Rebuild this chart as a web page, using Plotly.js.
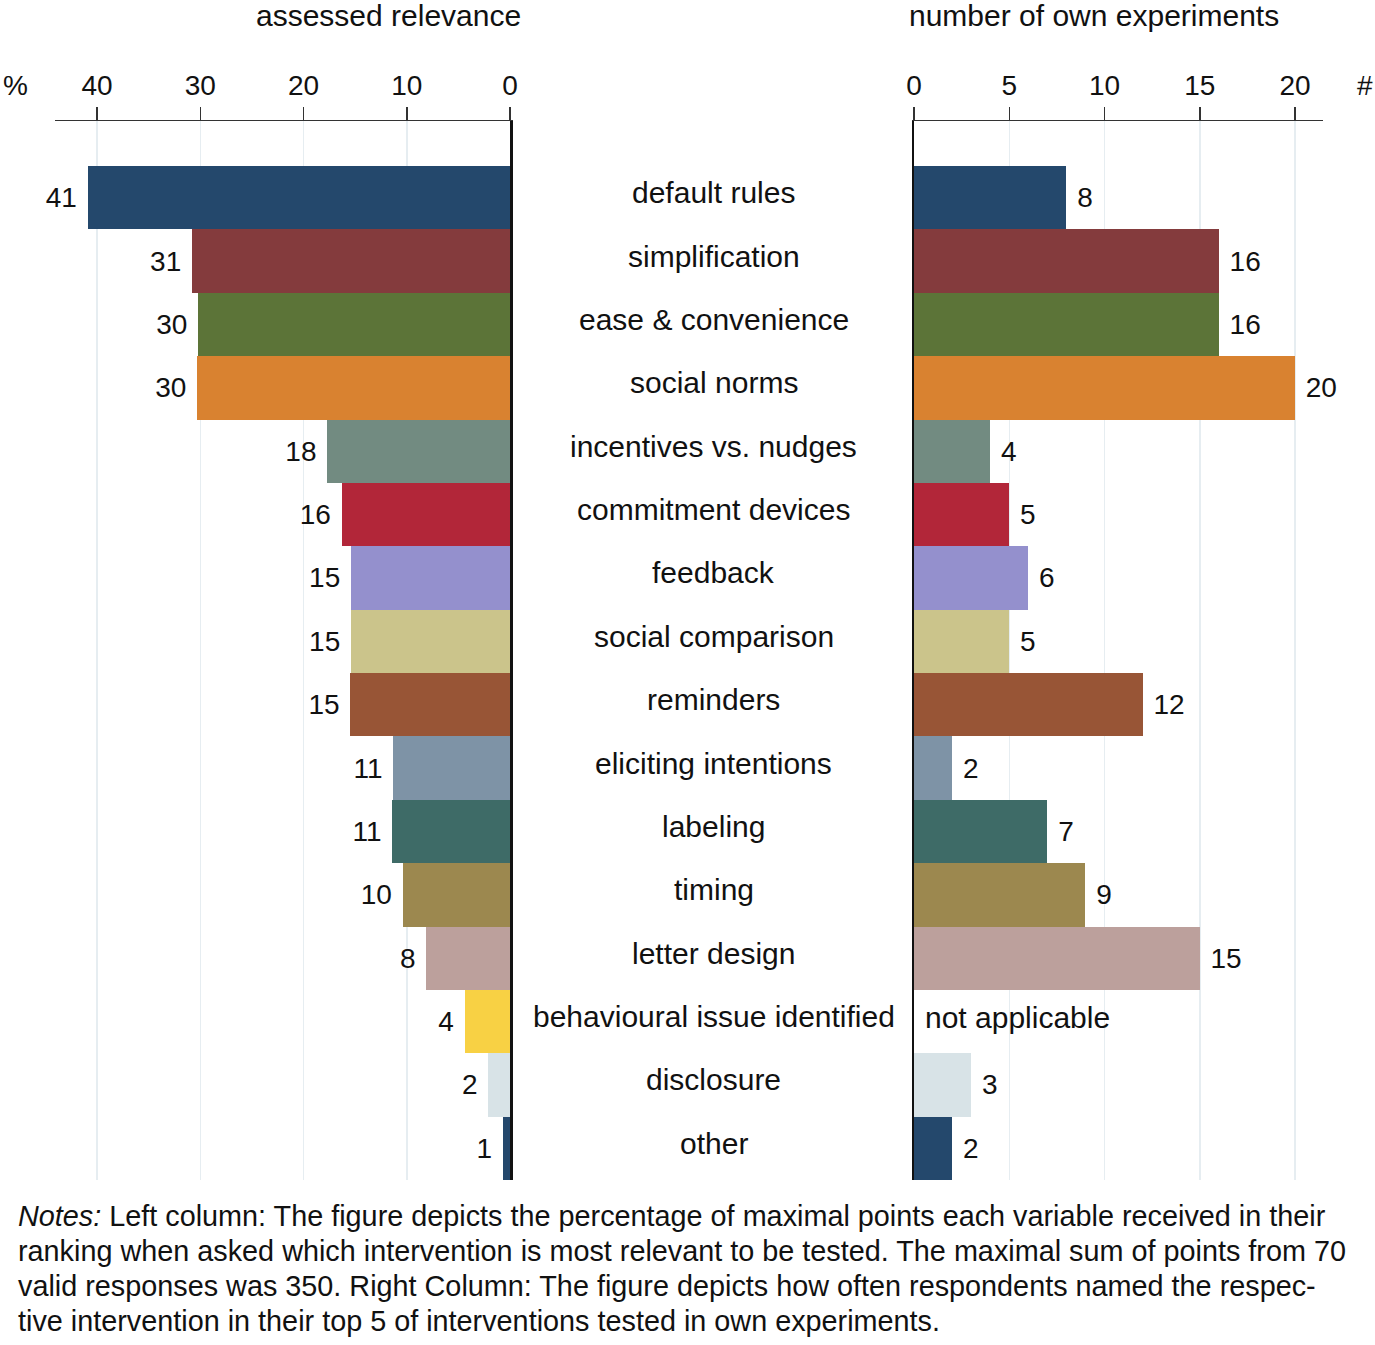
<!DOCTYPE html>
<html>
<head>
<meta charset="utf-8">
<script src="https://cdn.plot.ly/plotly-3.0.1.min.js"></script>
<style>
html,body{margin:0;padding:0;background:#fff;}
#chart{width:1375px;height:1345px;}
</style>
</head>
<body>
<div id="chart"></div>
<script>
const categories = ["default rules","simplification","ease & convenience","social norms","incentives vs. nudges","commitment devices","feedback","social comparison","reminders","eliciting intentions","labeling","timing","letter design","behavioural issue identified","disclosure","other"];
const relevancePct = [40.9,30.8,30.2,30.3,17.7,16.3,15.4,15.4,15.45,11.3,11.4,10.4,8.1,4.4,2.1,0.7];
const ownExperiments = [8,16,16,20,4,5,6,5,12,2,7,9,15,null,3,2];
const barColors = ["#24486c","#843b3d","#5c7438","#d98230","#728b81","#b22639","#9490cd","#cbc48b","#985536","#7e93a6","#3e6b67","#9c884f","#bca09c","#f8d144","#d8e3e7","#24486c"];
const leftTicks = [0,10,20,30,40];
const rightTicks = [0,5,10,15,20];
const leftTitle = "assessed relevance";
const rightTitle = "number of own experiments";
const notApplicableText = "not applicable";
const notesLines = [
  "<i>Notes:</i> Left column: The figure depicts the percentage of maximal points each variable received in their",
  "ranking when asked which intervention is most relevant to be tested. The maximal sum of points from 70",
  "valid responses was 350. Right Column: The figure depicts how often respondents named the respec-",
  "tive intervention in their top 5 of interventions tested in own experiments."
];

const FONT = "Liberation Sans, Arial, sans-serif";
const W = 1375;
const NB = "\u00a0";

const traces = [
  {
    type: "bar", orientation: "h",
    y: categories, x: relevancePct,
    xaxis: "x", yaxis: "y",
    marker: {color: barColors, line: {width: 0}},
    text: relevancePct.map(v => Math.round(v).toString() + NB),
    texttemplate: "%{text}",
    textposition: "outside",
    textfont: {family: FONT, size: 28, color: "#111"},
    cliponaxis: false,
    hoverinfo: "x+y"
  },
  {
    type: "bar", orientation: "h",
    y: categories, x: ownExperiments,
    xaxis: "x2", yaxis: "y2",
    marker: {color: barColors, line: {width: 0}},
    text: ownExperiments.map(v => v === null ? "" : NB + String(v)),
    texttemplate: "%{text}",
    textposition: "outside",
    textfont: {family: FONT, size: 28, color: "#111"},
    cliponaxis: false,
    hoverinfo: "x+y"
  }
];

const yRange = [categories.length - 0.5, -1.21];

const annotations = [];
categories.forEach((c, i) => {
  annotations.push({
    xref: "paper", yref: "y", x: 714 / W, y: c,
    text: c, showarrow: false, xanchor: "center", yanchor: "middle", yshift: 5,
    font: {family: FONT, size: 30, color: "#111"}
  });
});
const naIdx = ownExperiments.indexOf(null);
annotations.push({
  xref: "x2", yref: "y2", x: 0, y: categories[naIdx],
  text: notApplicableText, showarrow: false, xanchor: "left", yanchor: "middle", xshift: 9, yshift: 4,
  font: {family: FONT, size: 30, color: "#111"}
});
annotations.push({xref: "paper", yref: "paper", x: 388 / W, y: 1, yshift: 106, text: leftTitle, showarrow: false, xanchor: "center", yanchor: "middle", font: {family: FONT, size: 30, color: "#111"}});
annotations.push({xref: "paper", yref: "paper", x: 1094 / W, y: 1, yshift: 106, text: rightTitle, showarrow: false, xanchor: "center", yanchor: "middle", font: {family: FONT, size: 30, color: "#111"}});
annotations.push({xref: "paper", yref: "paper", x: 15 / W, y: 1, yshift: 36, text: "%", showarrow: false, xanchor: "center", yanchor: "middle", font: {family: FONT, size: 28, color: "#111"}});
annotations.push({xref: "paper", yref: "paper", x: 1365 / W, y: 1, yshift: 36, text: "#", showarrow: false, xanchor: "center", yanchor: "middle", font: {family: FONT, size: 28, color: "#111"}});
notesLines.forEach((ln, i) => {
  annotations.push({xref: "paper", yref: "paper", x: 16 / W, y: 0, yshift: -36 - 35 * i, text: ln, showarrow: false, xanchor: "left", yanchor: "middle", align: "left", font: {family: FONT, size: 28.8, color: "#111"}});
});

const axisCommon = {
  side: "top", showline: true, linecolor: "#333", linewidth: 1.5,
  ticks: "outside", ticklen: 13, tickwidth: 1.5, tickcolor: "#333",
  showgrid: true, gridcolor: "#e6edf1", gridwidth: 1.5, zeroline: false,
  tickfont: {family: FONT, size: 28, color: "#111"}, fixedrange: true
};

const layout = {
  width: 1375, height: 1345,
  margin: {l: 0, r: 0, t: 121, b: 165},
  paper_bgcolor: "#fff", plot_bgcolor: "rgba(0,0,0,0)",
  showlegend: false, bargap: 0,
  xaxis: Object.assign({}, axisCommon, {domain: [55 / W, 510 / W], range: [44.07, 0], tickvals: leftTicks, anchor: "y"}),
  yaxis: {domain: [0, 1], range: yRange, side: "right", showline: true, linecolor: "#111", linewidth: 2.5, showticklabels: false, ticks: "", showgrid: false, zeroline: false, anchor: "x", type: "category", categoryorder: "array", categoryarray: categories},
  xaxis2: Object.assign({}, axisCommon, {domain: [914 / W, 1323 / W], range: [0, 21.47], tickvals: rightTicks, anchor: "y2"}),
  yaxis2: {domain: [0, 1], range: yRange, side: "left", showline: true, linecolor: "#111", linewidth: 2.5, showticklabels: false, ticks: "", showgrid: false, zeroline: false, anchor: "x2", type: "category", categoryorder: "array", categoryarray: categories},
  annotations: annotations
};

Plotly.newPlot("chart", traces, layout, {displayModeBar: false, staticPlot: true});
</script>
</body>
</html>
